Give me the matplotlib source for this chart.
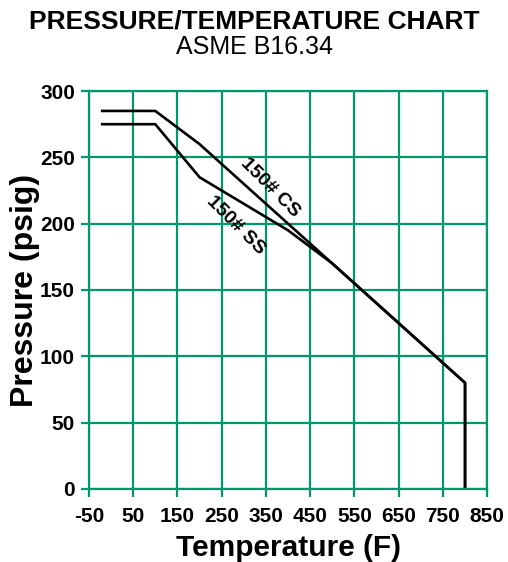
import numpy as np
import matplotlib.pyplot as plt

# ASME B16.34 class 150 ratings
temp_cs = [-20, 100, 200, 300, 400, 500, 600, 650, 700, 750, 800, 800]
press_cs = [285, 285, 260, 230, 200, 170, 140, 125, 110, 95, 80, 0]

temp_ss = [-20, 100, 200, 300, 400, 500, 600, 650, 700, 750, 800, 800]
press_ss = [275, 275, 235, 215, 195, 170, 140, 125, 110, 95, 80, 0]

x_ticks = [-50, 50, 150, 250, 350, 450, 550, 650, 750, 850]
y_ticks = [0, 50, 100, 150, 200, 250, 300]

green = '#00976c'
plt.rcParams['font.family'] = ['Liberation Sans', 'DejaVu Sans']

fig = plt.figure(figsize=(5.08, 5.62), dpi=100)
ax = fig.add_axes([0.175, 0.130, 0.784, 0.708])

ax.plot(temp_cs, press_cs, color='black', lw=1.9, solid_joinstyle='miter')
ax.plot(temp_ss, press_ss, color='black', lw=1.9, solid_joinstyle='miter')

ax.set_xlim(-50, 850)
ax.set_ylim(0, 300)
ax.set_xticks(x_ticks)
ax.set_yticks(y_ticks)
ax.grid(True, color=green, lw=1.6)
ax.set_axisbelow(True)
for s in ax.spines.values():
    s.set_color(green)
    s.set_linewidth(1.6)
ax.tick_params(color=green, width=1.6, length=6)
ax.tick_params(axis='x', pad=7)
ax.tick_params(axis='y', pad=4)
tick_font = dict(weight='bold', size=15)
ax.set_xticklabels([str(t) for t in x_ticks], **tick_font)
ax.set_yticklabels([str(t) for t in y_ticks], **tick_font)

ax.text(360, 227, '150# CS', rotation=-45, ha='center', va='center',
        fontsize=14, fontweight='bold')
ax.text(282, 199, '150# SS', rotation=-45, ha='center', va='center',
        fontsize=14, fontweight='bold')

ax.set_xlabel('Temperature (F)', fontsize=21.5, fontweight='bold', labelpad=6)
ax.set_ylabel('Pressure (psig)', fontsize=23, fontweight='bold', labelpad=0)

fig.text(0.5, 0.962, 'PRESSURE/TEMPERATURE CHART', ha='center', va='center',
         fontsize=19, fontweight='bold')
fig.text(0.5, 0.917, 'ASME B16.34', ha='center', va='center', fontsize=18)

fig.savefig('out.png', dpi=100)
